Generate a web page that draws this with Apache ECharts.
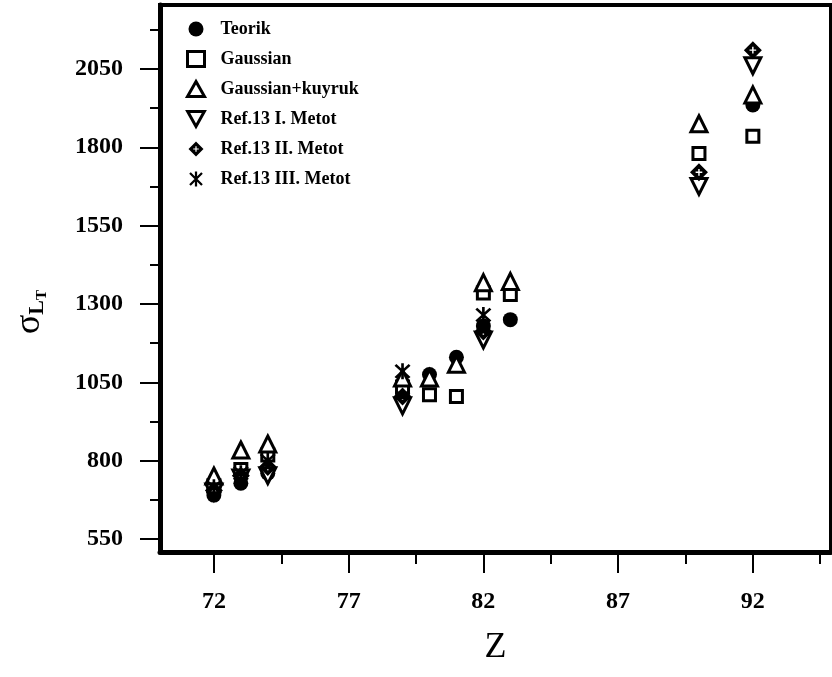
<!DOCTYPE html>
<html>
<head>
<meta charset="utf-8">
<script src="https://cdn.jsdelivr.net/npm/echarts@6/dist/echarts.min.js"></script>
<style>
  html, body { margin: 0; padding: 0; background: #fff; }
  #chart { width: 832px; height: 677px; }
</style>
</head>
<body>
<div id="chart"></div>
<script>
// atomic numbers on the x axis
let zValues = [72, 73, 74, 79, 80, 81, 82, 83, 90, 92]
// sigma values (null = no point)
let teorik = [690, 728, 760, 1015, 1075, 1130, 1230, 1250, null, 1935]
let gaussian = [720, 772, 818, 1035, 1010, 1005, 1335, 1330, 1780, 1835]
let gaussKuyruk = [751, 834, 853, 1064, 1064, 1108, 1368, 1372, 1875, 1967]
let ref1 = [700, 745, 752, 975, null, null, 1185, null, 1675, 2060]
let ref2 = [705, 752, 780, 1005, null, null, 1212, null, 1720, 2110]
let ref3 = [715, 760, 800, 1085, null, null, 1265, null, null, null]

let xMajor = [72, 77, 82, 87, 92]
let xMinor = [74.5, 79.5, 84.5, 89.5, 94.5]
let yMajor = [550, 800, 1050, 1300, 1550, 1800, 2050]
let yMinor = [675, 925, 1175, 1425, 1675, 1925, 2175]

let serif = '"Liberation Serif", "Times New Roman", serif'

function pairs(vals) {
  let out = []
  for (let i = 0; i < zValues.length; i++) {
    if (vals[i] != null) out.push([zValues[i], vals[i]])
  }
  return out
}

// filled diamond with a small white cross cut out
let diamondCross = 'path://M10 0L20 10L10 20L0 10Z' +
  'M9.2 6.3L9.2 9.2L6.3 9.2L6.3 10.8L9.2 10.8L9.2 13.7L10.8 13.7L10.8 10.8L13.7 10.8L13.7 9.2L10.8 9.2L10.8 6.3Z'
let asterisk = 'path://M8.5 0L11.5 0L11.5 20L8.5 20Z' +
  'M3.06 0.94L19.06 16.94L16.94 19.06L0.94 3.06Z' +
  'M16.94 0.94L19.06 3.06L3.06 19.06L0.94 16.94Z'
let downTriangle = 'path://M0 0L20 0L10 18Z'

let openStyle = { color: '#fff', borderColor: '#000', borderWidth: 3, opacity: 1 }
let solidStyle = { color: '#000', opacity: 1 }

let chart = echarts.init(document.getElementById('chart'))
let option = {
  backgroundColor: '#fff',
  animation: false,
  grid: {
    left: 160, right: 1, top: 5, bottom: 125,
    show: true, borderColor: '#000', borderWidth: 4
  },
  legend: {
    orient: 'vertical',
    left: 181,
    top: 15,
    itemWidth: 17,
    itemHeight: 15,
    itemGap: 12,
    textStyle: {
      fontFamily: serif, fontSize: 18, fontWeight: 'bold', color: '#000',
      padding: [0, 0, 0, 11]
    },
    data: [
      { name: 'Teorik' },
      { name: 'Gaussian', itemStyle: { borderWidth: 3 } },
      { name: 'Gaussian+kuyruk', itemStyle: { borderWidth: 3 } },
      { name: 'Ref.13 I. Metot', itemStyle: { borderWidth: 3 } },
      { name: 'Ref.13 II. Metot' },
      { name: 'Ref.13 III. Metot' }
    ]
  },
  xAxis: [{
    type: 'value',
    min: 70, max: 94.9,
    name: 'Z',
    nameLocation: 'middle',
    nameGap: 78,
    nameTextStyle: { fontFamily: serif, fontSize: 36, color: '#000' },
    axisLine: { show: true, lineStyle: { color: '#000', width: 5 } },
    axisTick: { show: true, customValues: xMajor, length: 21, lineStyle: { color: '#000', width: 2 } },
    axisLabel: {
      customValues: xMajor, margin: 38,
      fontFamily: serif, fontSize: 24, fontWeight: 'bold', color: '#000',
      formatter: function (v) { return String(v) }
    },
    splitLine: { show: false }
  }, {
    type: 'value',
    gridIndex: 0,
    position: 'bottom',
    min: 70, max: 94.9,
    axisLine: { show: false },
    axisTick: { show: true, customValues: xMinor, length: 12, lineStyle: { color: '#000', width: 2 } },
    axisLabel: { show: false },
    splitLine: { show: false }
  }],
  yAxis: [{
    type: 'value',
    min: 508.5, max: 2254,
    axisLine: { show: true, lineStyle: { color: '#000', width: 5 } },
    axisTick: { show: true, customValues: yMajor, length: 20, lineStyle: { color: '#000', width: 2 } },
    axisLabel: {
      customValues: yMajor, margin: 37,
      fontFamily: serif, fontSize: 24, fontWeight: 'bold', color: '#000',
      formatter: function (v) { return String(v) }
    },
    splitLine: { show: false }
  }, {
    type: 'value',
    gridIndex: 0,
    position: 'left',
    min: 508.5, max: 2254,
    axisLine: { show: false },
    axisTick: { show: true, customValues: yMinor, length: 10, lineStyle: { color: '#000', width: 2 } },
    axisLabel: { show: false },
    splitLine: { show: false }
  }],
  graphic: [{
    type: 'text',
    x: 30,
    y: 312,
    rotation: Math.PI / 2,
    style: {
      text: '{s|σ}{l|L}{t|T}',
      align: 'center',
      verticalAlign: 'middle',
      fill: '#000',
      rich: {
        s: { fontFamily: serif, fontSize: 36, lineHeight: 40, verticalAlign: 'middle' },
        l: { fontFamily: serif, fontSize: 22, fontWeight: 'bold', lineHeight: 40, verticalAlign: 'bottom', padding: [0, 0, 2, 0] },
        t: { fontFamily: serif, fontSize: 15, fontWeight: 'bold', lineHeight: 40, verticalAlign: 'bottom' }
      }
    }
  }],
  series: [{
    name: 'Teorik', type: 'scatter', data: pairs(teorik),
    symbol: 'circle', symbolSize: 15,
    itemStyle: solidStyle
  }, {
    name: 'Gaussian', type: 'scatter', data: pairs(gaussian),
    symbol: 'rect', symbolSize: 12,
    itemStyle: openStyle
  }, {
    name: 'Gaussian+kuyruk', type: 'scatter', data: pairs(gaussKuyruk),
    symbol: 'triangle', symbolSize: 16,
    itemStyle: openStyle
  }, {
    name: 'Ref.13 I. Metot', type: 'scatter', data: pairs(ref1),
    symbol: downTriangle, symbolSize: 16,
    itemStyle: openStyle
  }, {
    name: 'Ref.13 II. Metot', type: 'scatter', data: pairs(ref2),
    symbol: diamondCross, symbolSize: 18,
    itemStyle: solidStyle
  }, {
    name: 'Ref.13 III. Metot', type: 'scatter', data: pairs(ref3),
    symbol: asterisk, symbolSize: 16,
    itemStyle: solidStyle
  }]
}
chart.setOption(option)
</script>
</body>
</html>
